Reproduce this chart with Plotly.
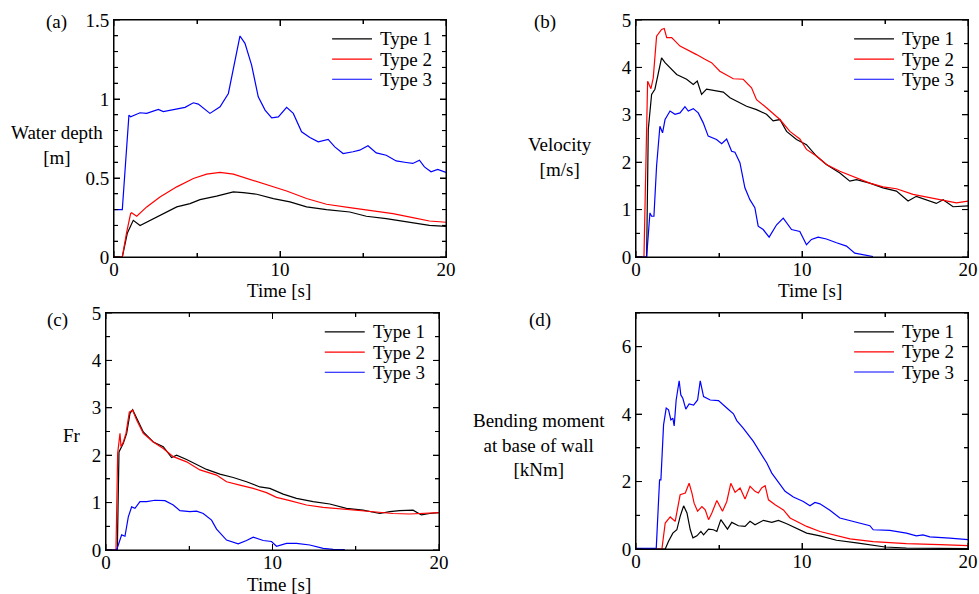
import plotly.graph_objects as go

# ---------------- data ----------------
# (a) Water depth [m]
a_t1_t = [0, 0.5, 0.8, 1.16, 1.57, 2.17, 2.97, 3.78, 4.58, 5.18, 6.18, 7.19, 7.79, 8.6, 9.6, 10.6, 11.6, 12.8, 14.2, 15.2, 16.4, 17.6, 19.0, 20]
a_t1_v = [0, 0, 0.15, 0.232, 0.199, 0.232, 0.275, 0.317, 0.338, 0.363, 0.385, 0.412, 0.408, 0.397, 0.37, 0.349, 0.317, 0.30, 0.285, 0.258, 0.243, 0.222, 0.20, 0.194]
a_t2_t = [0, 0.5, 0.75, 1.0, 1.06, 1.37, 1.97, 2.77, 3.78, 4.78, 5.58, 6.39, 7.19, 8.0, 9.2, 10.4, 11.6, 12.8, 14.2, 15.6, 16.8, 18.0, 19.0, 20]
a_t2_v = [0, 0, 0.15, 0.275, 0.28, 0.258, 0.317, 0.38, 0.444, 0.497, 0.524, 0.535, 0.524, 0.497, 0.454, 0.418, 0.37, 0.334, 0.313, 0.292, 0.275, 0.249, 0.228, 0.22]
a_t3_t = [0, 0.5, 0.7, 0.9, 1.0, 1.57, 1.97, 2.67, 2.97, 3.57, 4.28, 4.78, 5.08, 5.78, 6.39, 6.89, 7.19, 7.59, 7.89, 8.29, 8.69, 9.1, 9.5, 9.9, 10.4, 10.8, 11.3, 11.8, 12.3, 12.9, 13.3, 13.8, 14.4, 14.8, 15.3, 15.8, 16.4, 17.0, 17.6, 18.0, 18.4, 18.7, 19.1, 19.5, 20]
a_t3_v = [0.3, 0.3, 0.6, 0.898, 0.888, 0.913, 0.909, 0.934, 0.92, 0.934, 0.947, 0.976, 0.968, 0.909, 0.951, 1.035, 1.183, 1.399, 1.352, 1.215, 1.014, 0.93, 0.881, 0.887, 0.947, 0.909, 0.792, 0.756, 0.729, 0.744, 0.697, 0.655, 0.666, 0.676, 0.704, 0.659, 0.644, 0.608, 0.598, 0.592, 0.613, 0.57, 0.539, 0.554, 0.535]

# (b) Velocity [m/s]
b_t1_t = [0, 0.64, 0.74, 0.94, 1.14, 1.34, 1.54, 1.75, 2.05, 2.45, 3.05, 3.45, 3.69, 3.95, 4.25, 4.85, 5.26, 5.66, 6.06, 6.66, 7.26, 7.86, 8.26, 8.67, 9.07, 9.67, 10.27, 10.87, 11.47, 12.28, 12.88, 13.28, 14.08, 14.88, 15.69, 16.39, 16.89, 17.49, 18.09, 18.5, 19.1, 20]
b_t1_v = [0, 0, 2.69, 3.43, 3.54, 3.89, 4.20, 4.10, 3.99, 3.85, 3.75, 3.64, 3.71, 3.43, 3.54, 3.50, 3.48, 3.36, 3.29, 3.18, 3.11, 3.01, 2.87, 2.90, 2.65, 2.48, 2.37, 2.13, 1.95, 1.77, 1.60, 1.63, 1.56, 1.46, 1.39, 1.18, 1.28, 1.21, 1.13, 1.21, 1.06, 1.08]
b_t2_t = [0, 0.48, 0.7, 0.9, 1.04, 1.24, 1.54, 1.7, 1.85, 2.15, 2.65, 3.25, 3.65, 4.15, 4.55, 5.05, 5.46, 5.86, 6.46, 6.96, 7.26, 7.86, 8.67, 9.27, 9.87, 10.27, 10.87, 11.47, 12.28, 13.28, 14.08, 14.88, 15.69, 16.69, 17.69, 18.7, 19.3, 20]
b_t2_v = [0, 0, 3.71, 3.55, 3.78, 4.66, 4.80, 4.82, 4.63, 4.63, 4.45, 4.35, 4.27, 4.17, 4.10, 3.92, 3.83, 3.76, 3.75, 3.57, 3.32, 3.15, 2.90, 2.65, 2.49, 2.27, 2.13, 1.95, 1.81, 1.67, 1.56, 1.48, 1.44, 1.32, 1.25, 1.18, 1.14, 1.18]
b_t3_t = [0, 0.64, 0.84, 0.94, 1.08, 1.24, 1.44, 1.6, 1.75, 2.05, 2.35, 2.65, 2.95, 3.15, 3.45, 3.75, 4.05, 4.35, 4.85, 5.16, 5.46, 5.76, 5.96, 6.26, 6.56, 6.86, 7.16, 7.36, 7.66, 8.02, 8.47, 8.87, 9.37, 9.87, 10.27, 10.57, 10.97, 11.47, 12.08, 12.68, 13.18, 13.68, 14.28]
b_t3_v = [0, 0, 0.93, 0.86, 0.86, 1.92, 2.76, 2.62, 2.90, 3.08, 3.01, 3.04, 3.17, 3.08, 3.13, 3.04, 2.83, 2.55, 2.48, 2.39, 2.49, 2.23, 2.21, 1.99, 1.46, 1.21, 1.04, 0.65, 0.58, 0.42, 0.68, 0.82, 0.58, 0.54, 0.26, 0.37, 0.42, 0.38, 0.30, 0.23, 0.08, 0.05, 0.01]

# (c) Fr
c_t1_t = [0, 0.68, 0.78, 1.04, 1.24, 1.44, 1.6, 1.84, 2.24, 2.84, 3.44, 3.94, 4.24, 4.84, 5.44, 6.04, 6.84, 7.64, 8.44, 9.24, 9.84, 10.64, 11.44, 12.44, 13.44, 14.44, 15.44, 16.44, 17.04, 17.64, 18.44, 18.94, 19.44, 20]
c_t1_v = [0, 0, 2.07, 2.25, 2.46, 2.88, 2.96, 2.77, 2.49, 2.28, 2.18, 1.95, 2.0, 1.91, 1.81, 1.70, 1.60, 1.53, 1.44, 1.33, 1.30, 1.18, 1.09, 1.02, 0.97, 0.88, 0.84, 0.77, 0.81, 0.83, 0.84, 0.74, 0.77, 0.79]
c_t2_t = [0, 0.6, 0.7, 0.84, 0.9, 1.04, 1.2, 1.4, 1.6, 1.84, 2.24, 2.84, 3.44, 4.04, 4.84, 5.64, 6.64, 7.24, 8.04, 8.84, 9.64, 10.24, 11.04, 12.04, 13.04, 14.24, 15.24, 16.24, 17.24, 18.24, 19.04, 20]
c_t2_v = [0, 0, 2.04, 2.46, 2.18, 2.28, 2.46, 2.91, 2.95, 2.74, 2.46, 2.28, 2.14, 1.97, 1.86, 1.69, 1.58, 1.44, 1.37, 1.30, 1.21, 1.11, 1.04, 0.95, 0.90, 0.86, 0.83, 0.79, 0.77, 0.76, 0.77, 0.79]
c_t3_t = [0, 0.64, 0.94, 1.14, 1.34, 1.54, 1.74, 2.04, 2.44, 2.94, 3.54, 4.04, 4.44, 5.04, 5.44, 5.84, 6.34, 6.64, 7.24, 7.94, 8.44, 8.84, 9.44, 9.94, 10.24, 10.84, 11.44, 12.24, 13.04, 13.64, 14.34]
c_t3_v = [0, 0, 0.32, 0.29, 0.70, 0.91, 0.88, 1.02, 1.02, 1.05, 1.04, 0.95, 0.83, 0.81, 0.82, 0.77, 0.63, 0.44, 0.21, 0.13, 0.20, 0.27, 0.20, 0.18, 0.08, 0.14, 0.14, 0.105, 0.035, 0.014, 0.007]

# (d) Bending moment at base of wall [kNm]
d_t1_t = [0, 1.76, 1.96, 2.22, 2.46, 2.66, 2.87, 3.07, 3.27, 3.43, 3.67, 3.91, 4.07, 4.37, 4.67, 4.87, 5.11, 5.27, 5.51, 5.77, 6.17, 6.57, 6.87, 7.17, 7.68, 8.18, 8.58, 9.08, 9.68, 10.28, 11.08, 12.08, 13.29, 14.29, 15.0, 16.29, 18.3, 20]
d_t1_v = [0, 0, 0.23, 0.47, 0.57, 0.97, 1.28, 1.07, 0.57, 0.33, 0.39, 0.52, 0.42, 0.59, 0.57, 0.52, 0.87, 0.77, 0.59, 0.79, 0.69, 0.67, 0.82, 0.72, 0.85, 0.79, 0.85, 0.75, 0.62, 0.47, 0.39, 0.26, 0.18, 0.12, 0.06, 0.03, 0.01, 0.01]
d_t2_t = [0, 1.56, 1.76, 2.06, 2.36, 2.66, 2.97, 3.2, 3.37, 3.5, 3.71, 3.97, 4.17, 4.37, 4.57, 4.87, 5.21, 5.47, 5.71, 5.97, 6.27, 6.57, 6.87, 7.17, 7.37, 7.57, 7.78, 7.98, 8.38, 8.88, 9.28, 9.68, 10.28, 11.08, 12.08, 12.89, 14.29, 16.29, 18.3, 20]
d_t2_v = [0, 0, 0.77, 0.95, 0.82, 1.61, 1.66, 1.95, 1.66, 1.36, 1.12, 1.26, 1.16, 0.87, 1.07, 1.44, 1.12, 1.41, 1.95, 1.68, 1.81, 1.48, 1.86, 1.71, 1.66, 1.81, 1.88, 1.46, 1.31, 1.16, 0.92, 0.82, 0.67, 0.52, 0.39, 0.30, 0.22, 0.16, 0.13, 0.10]
d_t3_t = [0, 1.22, 1.42, 1.5, 1.66, 1.82, 1.96, 2.1, 2.22, 2.3, 2.42, 2.6, 2.7, 2.82, 3.0, 3.2, 3.47, 3.71, 3.87, 4.07, 4.47, 4.97, 5.47, 5.87, 6.07, 6.47, 7.07, 7.47, 7.88, 8.18, 8.48, 8.98, 9.48, 10.08, 10.48, 10.78, 11.08, 11.68, 12.28, 13.09, 14.09, 14.29, 15.29, 16.29, 16.89, 17.29, 17.7, 18.9, 20]
d_t3_v = [0.02, 0.02, 2.05, 2.05, 3.68, 4.18, 4.13, 3.83, 3.88, 3.65, 4.42, 4.99, 4.57, 4.47, 4.15, 4.30, 4.27, 4.42, 4.99, 4.52, 4.42, 4.40, 4.18, 4.01, 3.81, 3.58, 3.19, 2.89, 2.55, 2.25, 2.05, 1.71, 1.54, 1.41, 1.28, 1.38, 1.34, 1.15, 0.92, 0.82, 0.69, 0.57, 0.55, 0.47, 0.39, 0.42, 0.36, 0.32, 0.28]

series_names = ["Type 1", "Type 2", "Type 3"]
panel_labels = ["(a)", "(b)", "(c)", "(d)"]
x_title = "Time [s]"

# ---------------- layout helpers ----------------
W, H = 979, 594
FONT = "Liberation Serif"
FS = 19
colors = ["#000000", "#ff0000", "#0000ff"]


def px(x):
    return x / W


def py(y):
    return 1 - y / H


panels = [
    dict(data=[(a_t1_t, a_t1_v), (a_t2_t, a_t2_v), (a_t3_t, a_t3_v)],
         xd=(114, 446), yd=(20, 257), yr=[0, 1.5], ytick=0.5, yminor=0.1),
    dict(data=[(b_t1_t, b_t1_v), (b_t2_t, b_t2_v), (b_t3_t, b_t3_v)],
         xd=(636, 968), yd=(20, 257), yr=[0, 5], ytick=1, yminor=0.5),
    dict(data=[(c_t1_t, c_t1_v), (c_t2_t, c_t2_v), (c_t3_t, c_t3_v)],
         xd=(106, 439), yd=(313, 550), yr=[0, 5], ytick=1, yminor=0.5),
    dict(data=[(d_t1_t, d_t1_v), (d_t2_t, d_t2_v), (d_t3_t, d_t3_v)],
         xd=(636, 968), yd=(313, 549), yr=[0, 7], ytick=2, yminor=1),
]

fig = go.Figure()
annotations = []
shapes = []
layout = {}

MAJOR_LEN, MINOR_LEN = 6, 4


def tick_values(lo, hi, step):
    n = int(round((hi - lo) / step))
    return [round(lo + k * step, 6) for k in range(n + 1)]


for i, p in enumerate(panels):
    k = "" if i == 0 else str(i + 1)
    xa, ya = "x" + k, "y" + k
    for j, (t, v) in enumerate(p["data"]):
        fig.add_trace(go.Scatter(x=t, y=v, mode="lines", xaxis=xa, yaxis=ya,
                                 line=dict(color=colors[j], width=1.2),
                                 name=series_names[j], showlegend=False))
    common = dict(showline=True, linecolor="black", linewidth=1, mirror="allticks",
                  ticks="inside", ticklen=MAJOR_LEN, tickcolor="black", tickwidth=1,
                  showgrid=False, zeroline=False, automargin=False,
                  tickfont=dict(family=FONT, size=FS, color="black"))
    layout["xaxis" + k] = dict(common, domain=[px(p["xd"][0]), px(p["xd"][1])],
                               range=[0, 20], dtick=10, tick0=0, anchor=ya, ticklabelstandoff=-5,
                               minor=dict(dtick=5, tick0=0, ticks="inside", ticklen=MINOR_LEN, tickcolor="black", showgrid=False))
    layout["yaxis" + k] = dict(common, domain=[py(p["yd"][1]), py(p["yd"][0])],
                               range=p["yr"], dtick=p["ytick"], tick0=0, anchor=xa,
                               minor=dict(dtick=p["yminor"], tick0=0, ticks="inside", ticklen=MINOR_LEN, tickcolor="black", showgrid=False))
    # frame around the plot area
    shapes.append(dict(type="rect", xref=xa + " domain", yref=ya + " domain",
                       x0=0, x1=1, y0=0, y1=1, line=dict(color="black", width=1), layer="above"))
    # inward ticks on all four sides (major + minor)
    for xv in tick_values(0, 20, 5):
        L = MAJOR_LEN if xv % 10 == 0 else MINOR_LEN
        for anchor_y, sgn in ((0, 1), (1, -1)):
            shapes.append(dict(type="line", xref=xa, yref=ya + " domain", ysizemode="pixel",
                               yanchor=anchor_y, x0=xv, x1=xv, y0=0, y1=sgn * L,
                               line=dict(color="black", width=1), layer="above"))
    for yv in tick_values(p["yr"][0], p["yr"][1], p["yminor"]):
        q = yv / p["ytick"]
        L = MAJOR_LEN if abs(q - round(q)) < 1e-6 else MINOR_LEN
        for anchor_x, sgn in ((0, 1), (1, -1)):
            shapes.append(dict(type="line", xref=xa + " domain", yref=ya, xsizemode="pixel",
                               xanchor=anchor_x, y0=yv, y1=yv, x0=0, x1=sgn * L,
                               line=dict(color="black", width=1), layer="above"))
    # manual legend inside each panel
    for j, name in enumerate(series_names):
        yy = [0.92, 0.835, 0.75][j]
        shapes.append(dict(type="line", xref=xa + " domain", yref=ya + " domain",
                           x0=0.657, x1=0.777, y0=yy, y1=yy,
                           line=dict(color=colors[j], width=1.2)))
        annotations.append(dict(xref=xa + " domain", yref=ya + " domain", x=0.795, y=yy,
                                text=name, showarrow=False, xanchor="left", yanchor="middle",
                                font=dict(family=FONT, size=FS, color="black")))

# panel labels
for (lx, ly), lab in zip([(56, 22), (545, 22), (57, 320), (540, 320)], panel_labels):
    annotations.append(dict(xref="paper", yref="paper", x=px(lx), y=py(ly), text=lab,
                            showarrow=False, xanchor="center", yanchor="middle",
                            font=dict(family=FONT, size=FS, color="black")))

# y-axis titles
ytitles = [("Water depth<br>[m]", 57, 145), ("Velocity<br>[m/s]", 560, 157),
           ("Fr", 72, 435), ("Bending moment<br>at base of wall<br>[kNm]", 539, 445)]
for text, tx, ty in ytitles:
    annotations.append(dict(xref="paper", yref="paper", x=px(tx), y=py(ty), text=text,
                            showarrow=False, xanchor="center", yanchor="middle", align="center",
                            font=dict(family=FONT, size=FS, color="black")))

# x-axis titles
for tx, ty in [(279, 291), (810, 290), (279, 584)]:
    annotations.append(dict(xref="paper", yref="paper", x=px(tx), y=py(ty), text=x_title,
                            showarrow=False, xanchor="center", yanchor="middle",
                            font=dict(family=FONT, size=FS, color="black")))

fig.update_layout(
    template="none",
    width=W, height=H,
    margin=dict(l=0, r=0, t=0, b=0, pad=0),
    paper_bgcolor="white", plot_bgcolor="white",
    showlegend=False,
    annotations=annotations, shapes=shapes,
    font=dict(family=FONT, size=FS, color="black"),
    **layout,
)

fig.write_html("out.html", config={"displayModeBar": False},
               post_script="document.body.style.margin='0';document.body.style.overflow='hidden';")
